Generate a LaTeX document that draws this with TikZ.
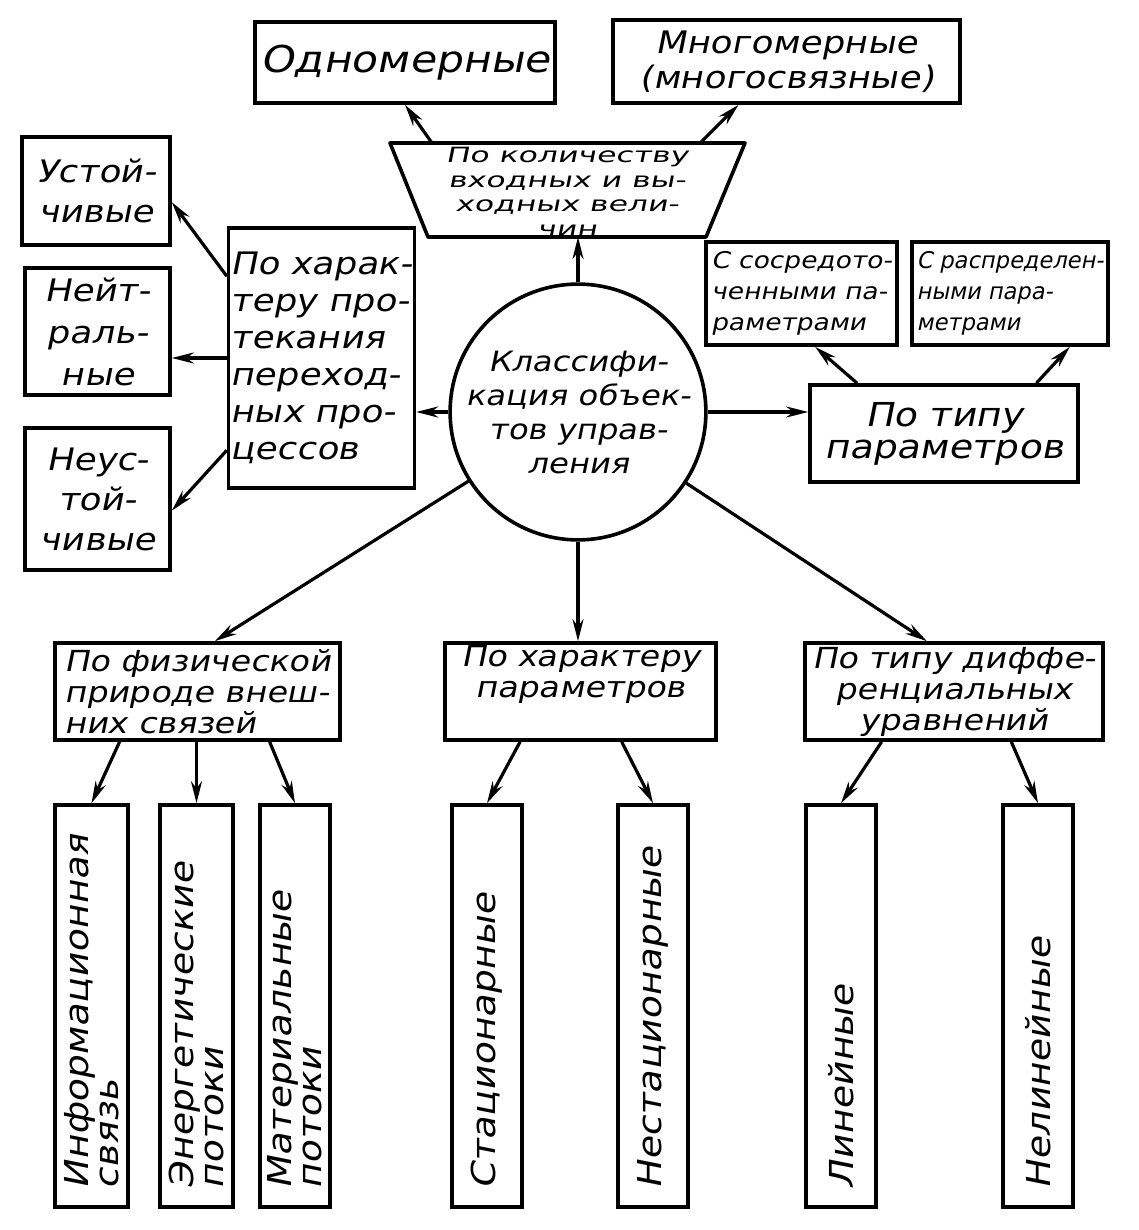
\documentclass[tikz,border=0pt]{standalone}
\usepackage{fontspec}
\newfontfamily\hw{DejaVu Sans}[FakeSlant=0.2,FakeStretch=1.15]
\newfontfamily\hwwide{DejaVu Sans}[FakeSlant=0.2,FakeStretch=1.5]
\newfontfamily\hwnarrow{DejaVu Sans}[FakeSlant=0.2,FakeStretch=0.98]
\newcommand\hwsz[2]{\fontsize{#1pt}{#2pt}\selectfont}
\usetikzlibrary{arrows.meta,calc}
\begin{document}
\begin{tikzpicture}[x=1pt,y=-1pt,
  box/.style={draw, line width=3.6pt, inner sep=2pt, align=center, font=\hw\hwsz{30}{37}},
  vbox/.style={draw, line width=3.6pt, rotate=90, minimum width=402pt, text width=366pt, align=left, inner sep=2pt, font=\hw\hwsz{33}{30}},
  arr/.style={line width=3.2pt, -{Stealth[length=22pt,width=11pt]}},
  edge/.style={line width=3.6pt, line join=round}]
\useasboundingbox (0,0) rectangle (1138,1230);
\fill[white] (0,0) rectangle (1138,1230);

% top boxes
\node[box, minimum width=300pt, minimum height=81pt, font=\hw\hwsz{37}{40}] (one) at (405,62.5) {Одномерные};
\node[box, minimum width=347pt, minimum height=83pt, font=\hw\hwsz{31}{35}] (multi) at (786.5,61.5) {Многомерные\\(многосвязные)};

% trapezoid
\draw[edge] (390,143) -- (745,143) -- (706,237) -- (428,237) -- cycle;
\node[align=center, inner sep=0pt, font=\hwwide\hwsz{21}{24.5}] (trap) at (567,192) {По количеству\\входных и вы-\\ходных вели-\\чин};
\coordinate (trapTL) at (432,143);
\coordinate (trapTR) at (700,143);
\coordinate (trapB) at (578,237);

% centre circle
\node[draw, circle, line width=3.6pt, minimum size=236pt, inner sep=0pt, align=center, font=\hw\hwsz{28}{34}] (circ) at (578,412) {Классифи-\\кация объек-\\тов управ-\\ления};

% left side
\node[box, minimum width=183pt, minimum height=260pt, align=left, font=\hw\hwsz{31}{37}] (char) at (321.5,358) {По харак-\\теру про-\\текания\\переход-\\ных про-\\цессов};
\node[box, minimum width=148pt, minimum height=108pt, font=\hw\hwsz{31}{40}] (st) at (96,191) {Устой-\\чивые};
\node[box, minimum width=145pt, minimum height=127pt, font=\hw\hwsz{31}{42}] (ne) at (97.5,331.5) {Нейт-\\раль-\\ные};
\node[box, minimum width=145pt, minimum height=142pt, font=\hw\hwsz{31}{40}] (un) at (97.5,499) {Неус-\\той-\\чивые};

% right side
\node[box, minimum width=268pt, minimum height=97pt, font=\hw\hwsz{33}{32}] (tp) at (944,433.5) {По типу\\параметров};
\node[box, minimum width=191pt, minimum height=103pt, align=left, font=\hw\hwsz{23}{31}] (sosr) at (801.5,293.5) {С сосредото-\\ченными па-\\раметрами};
\node[box, minimum width=196pt, minimum height=103pt, align=left, font=\hwnarrow\hwsz{23}{31}] (rasp) at (1010,293.5) {С распределен-\\ными пара-\\метрами};

% bottom category boxes
\node[box, minimum width=285pt, minimum height=97pt, align=left, font=\hw\hwsz{29}{31}] (phys) at (197.5,691.5) {По физической\\природе внеш-\\них связей};
\node[box, minimum width=271pt, minimum height=97pt, font=\hw\hwsz{29}{31}] (charp) at (580.5,691.5) {По характеру\\параметров\\\strut};
\node[box, minimum width=298pt, minimum height=97pt, font=\hw\hwsz{29}{31}] (diff) at (954,691.5) {По типу диффе-\\ренциальных\\уравнений};

% vertical boxes
\node[vbox, minimum height=73pt] (info) at (91.5,1006) {Информационная\\связь};
\node[vbox, minimum height=73pt] (energ) at (196.5,1006) {Энергетические\\потоки};
\node[vbox, minimum height=70pt] (mat) at (295,1006) {Материальные\\потоки};
\node[vbox, minimum height=70pt] (stat) at (487,1006) {Стационарные};
\node[vbox, minimum height=70pt] (nstat) at (653,1006) {Нестационарные};
\node[vbox, minimum height=70pt] (lin) at (841,1006) {Линейные};
\node[vbox, minimum height=70pt] (nlin) at (1038,1006) {Нелинейные};

% connectors
\draw[arr] (circ) -- (trapB);
\draw[arr] (trapTL) -- (one.south);
\draw[arr] (trapTR) -- ([xshift=-48pt]multi.south);
\draw[arr] (circ.west) -- (circ.west -| char.east);
\draw[arr] ($(char.north west)!0.19!(char.south west)$) -- ($(st.north east)!0.6!(st.south east)$);
\draw[arr] (char.west) -- (char.west -| ne.east);
\draw[arr] ($(char.north west)!0.85!(char.south west)$) -- ($(un.north east)!0.58!(un.south east)$);
\draw[arr] (circ.east) -- (circ.east -| tp.west);
\draw[arr] ($(tp.north west)!0.18!(tp.north east)$) -- ($(sosr.south west)!0.57!(sosr.south east)$);
\draw[arr] ($(tp.north west)!0.84!(tp.north east)$) -- ($(rasp.south west)!0.8!(rasp.south east)$);
\draw[arr] (circ) -- ($(phys.north west)!0.56!(phys.north east)$);
\draw[arr] (circ.south) -- (circ.south |- charp.north);
\draw[arr] (circ) -- ($(diff.north west)!0.41!(diff.north east)$);
\draw[arr] ($(phys.south west)!0.23!(phys.south east)$) -- (info.east);
\draw[arr] (energ.east |- phys.south) -- (energ.east);
\draw[arr] ($(phys.south west)!0.75!(phys.south east)$) -- (mat.east);
\draw[arr] ($(charp.south west)!0.28!(charp.south east)$) -- (stat.east);
\draw[arr] ($(charp.south west)!0.65!(charp.south east)$) -- (nstat.east);
\draw[arr] ($(diff.south west)!0.26!(diff.south east)$) -- (lin.east);
\draw[arr] ($(diff.south west)!0.69!(diff.south east)$) -- (nlin.east);
\end{tikzpicture}
\end{document}
